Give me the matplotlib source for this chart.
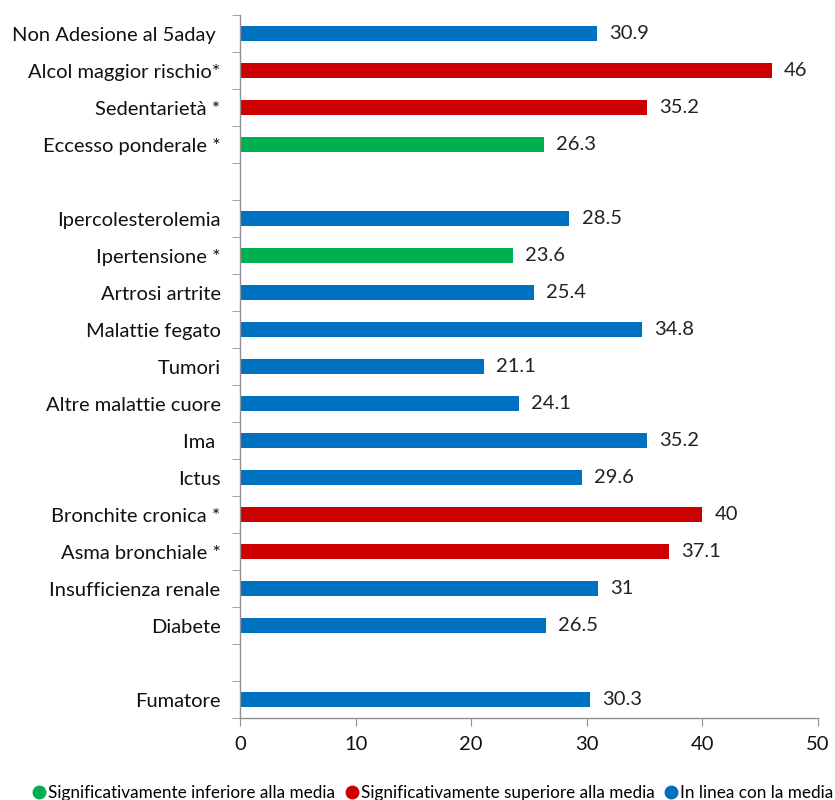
import matplotlib
matplotlib.use("Agg")
import matplotlib.pyplot as plt
from matplotlib.lines import Line2D
import numpy as np

# Categories from top to bottom; empty strings are spacer rows
categories = [
    "Non Adesione al 5aday ", "Alcol maggior rischio*", "Sedentarietà *",
    "Eccesso ponderale *", "",
    "Ipercolesterolemia", "Ipertensione *", "Artrosi artrite",
    "Malattie fegato", "Tumori", "Altre malattie cuore", "Ima ", "Ictus",
    "Bronchite cronica *", "Asma bronchiale *", "Insufficienza renale",
    "Diabete", "",
    "Fumatore",
]
values = [30.9, 46, 35.2, 26.3, None,
          28.5, 23.6, 25.4, 34.8, 21.1, 24.1, 35.2, 29.6,
          40, 37.1, 31, 26.5, None,
          30.3]
# g = below average, r = above average, b = in line with average
groups = ["b", "r", "r", "g", "",
          "b", "g", "b", "b", "b", "b", "b", "b",
          "r", "r", "b", "b", "",
          "b"]
value_labels = ["30.9", "46", "35.2", "26.3", "",
                "28.5", "23.6", "25.4", "34.8", "21.1", "24.1", "35.2", "29.6",
                "40", "37.1", "31", "26.5", "",
                "30.3"]
x_ticks = [0, 10, 20, 30, 40, 50]
legend_labels = {
    "g": "Significativamente inferiore alla media",
    "r": "Significativamente superiore alla media",
    "b": "In linea con la media",
}
palette = {"g": "#00B050", "r": "#CC0000", "b": "#0070C0"}

plt.rcParams["font.family"] = ["Lato", "DejaVu Sans"]

fig = plt.figure(figsize=(8.35, 8.0), dpi=100)
ax = fig.add_axes([240 / 835, 1 - 718 / 800, (818 - 240) / 835, (718 - 15) / 800])

n = len(categories)
y = np.arange(n)
for yi, v, g, lab in zip(y, values, groups, value_labels):
    if v is None:
        continue
    ax.barh(yi, v, height=0.43, color=palette[g], zorder=2)
    ax.text(v + 1.05, yi, lab, va="center", ha="left", fontsize=14.5, color="#222222")

ax.set_ylim(n - 0.5, -0.5)
ax.set_xlim(0, 50)
ax.set_yticks(y)
ax.set_yticklabels(categories, fontsize=14.5, color="#111111")
ax.set_yticks(np.arange(n + 1) - 0.5, minor=True)
ax.tick_params(axis="y", which="major", length=0, pad=14)
ax.tick_params(axis="y", which="minor", length=6, color="#909090", direction="out")
ax.set_xticks(x_ticks)
ax.tick_params(axis="x", length=6, color="#909090", labelsize=14.5, pad=7,
               labelcolor="#111111")

for s in ("top", "right"):
    ax.spines[s].set_visible(False)
for s in ("left", "bottom"):
    ax.spines[s].set_color("#909090")
    ax.spines[s].set_linewidth(1.0)

handles = [Line2D([], [], marker="o", linestyle="none", markersize=9,
                  markerfacecolor=palette[k], markeredgecolor=palette[k],
                  label=legend_labels[k]) for k in ("g", "r", "b")]
fig.legend(handles=handles, loc="center", bbox_to_anchor=(0.518, 1 - 793 / 800),
           ncol=3, frameon=False, fontsize=12.3, handletextpad=0.1,
           columnspacing=0.5, handlelength=0.9)

fig.savefig("out.png", dpi=100)
